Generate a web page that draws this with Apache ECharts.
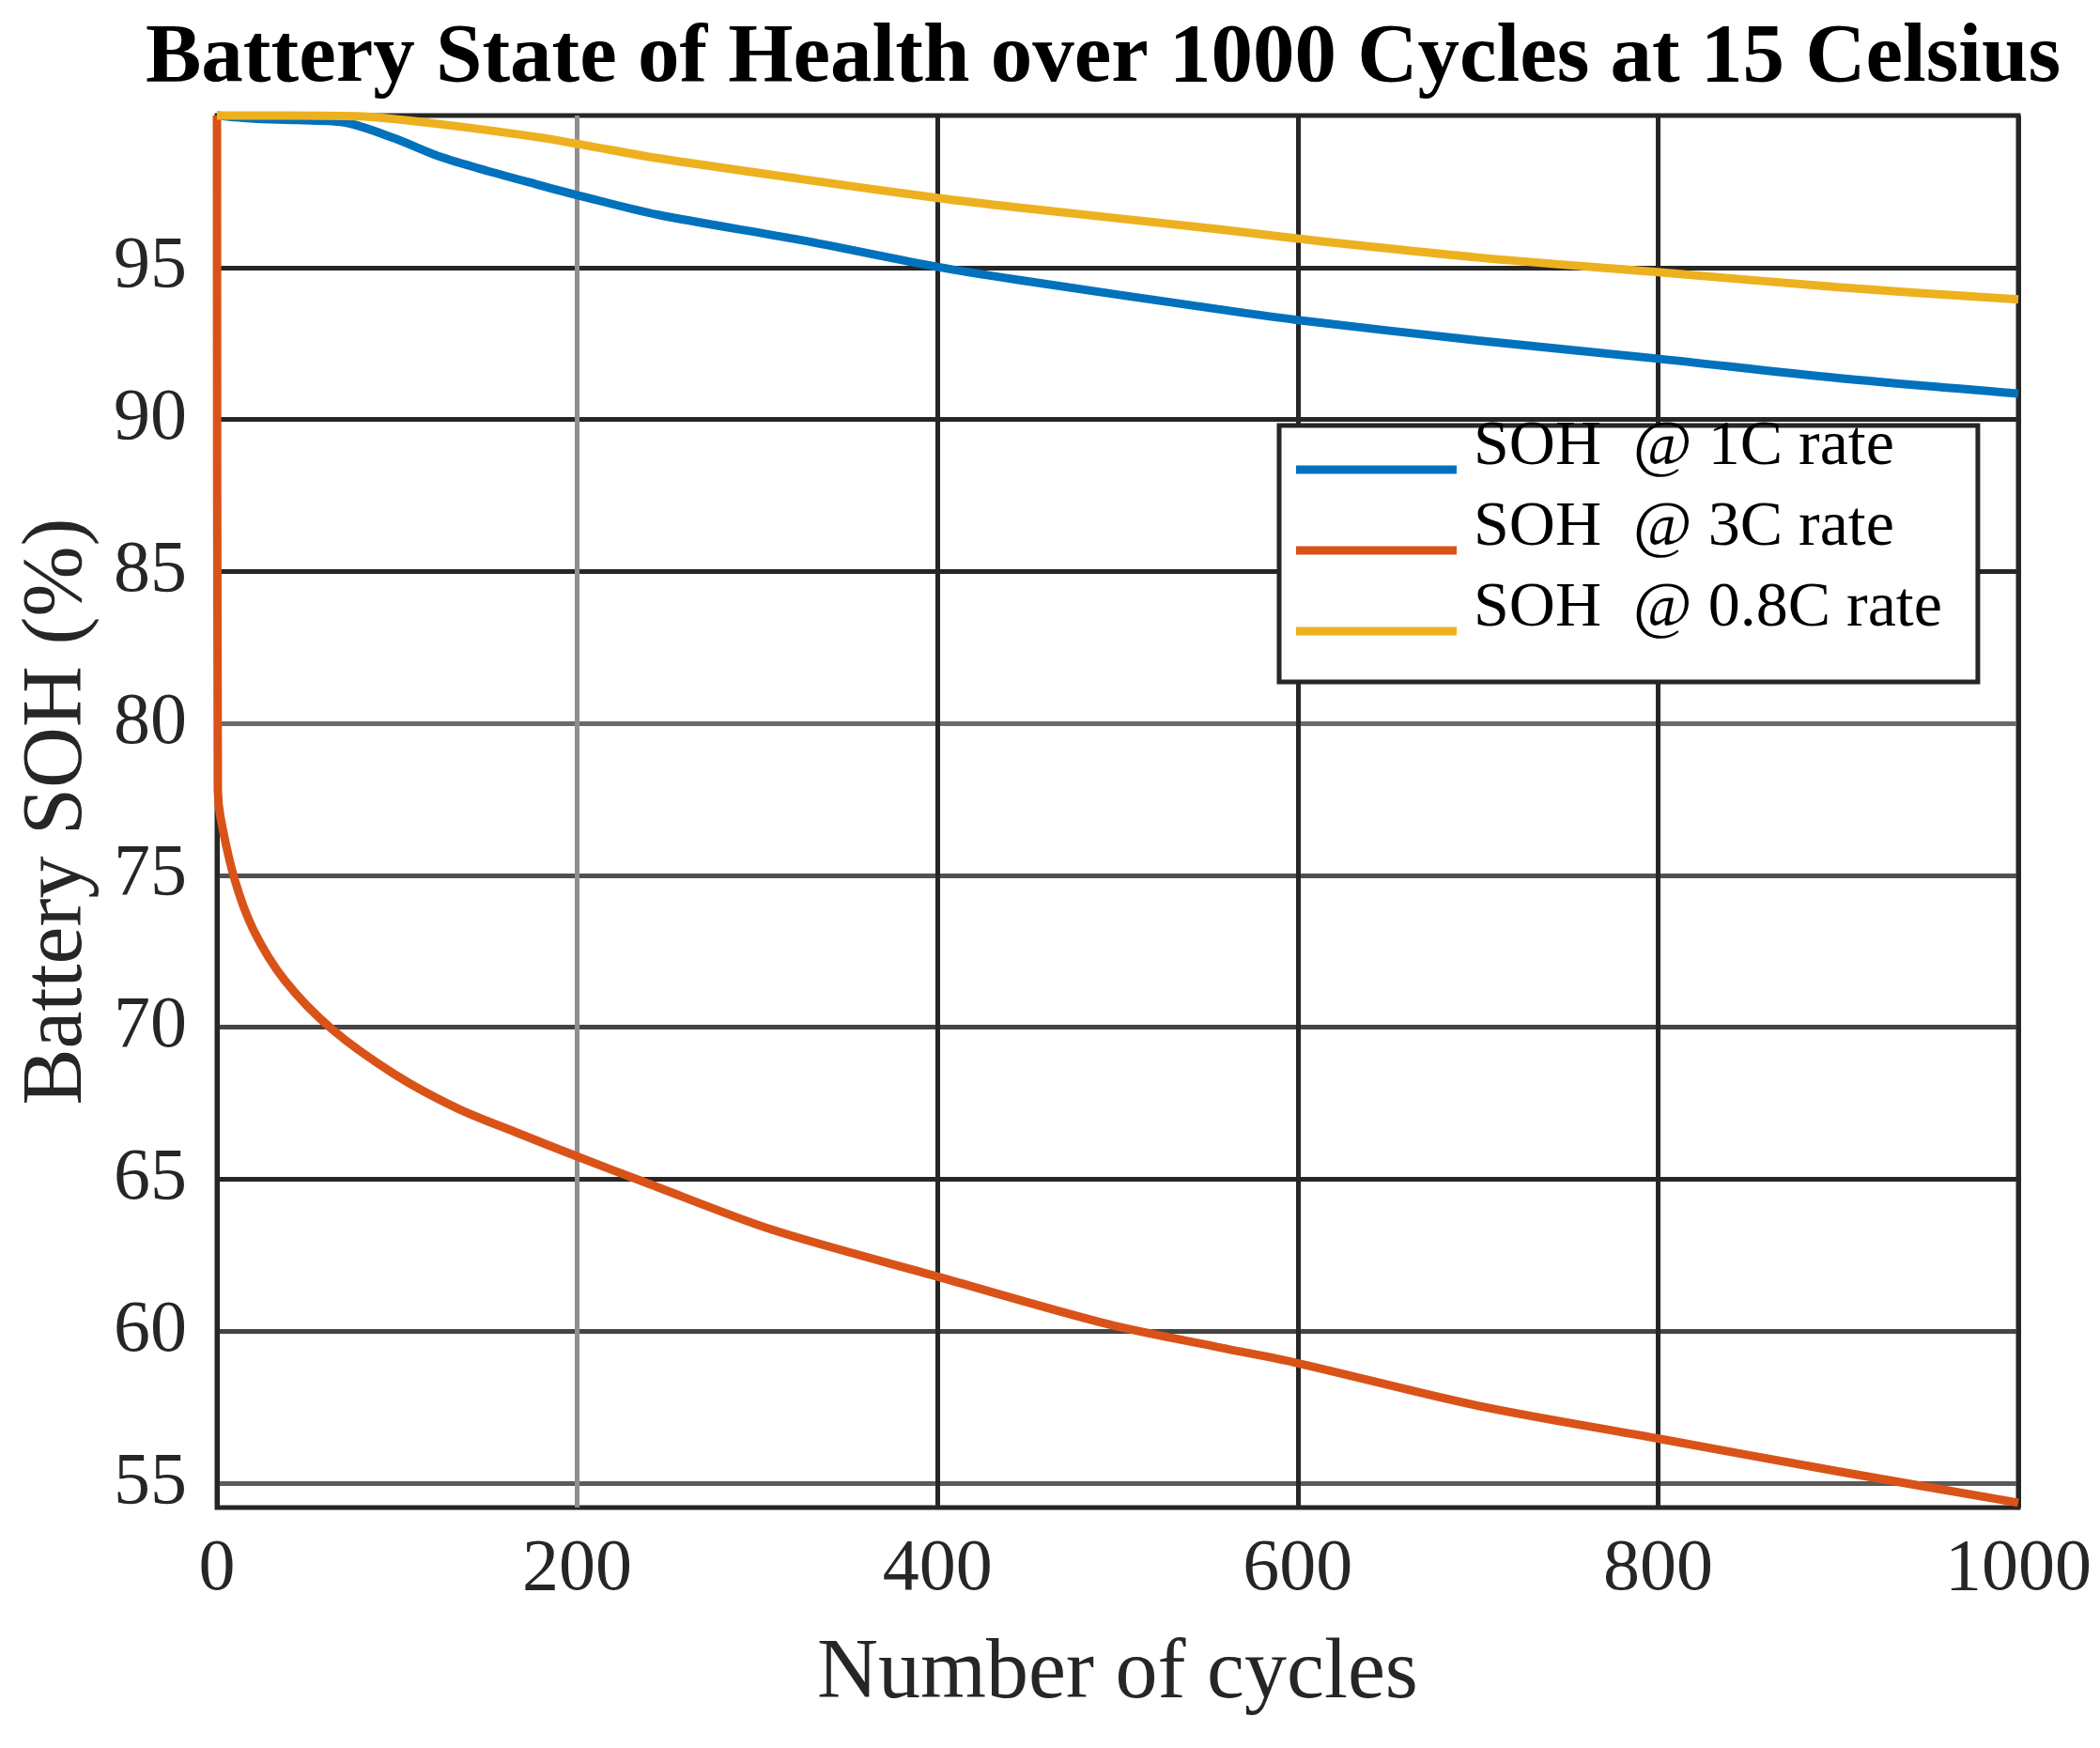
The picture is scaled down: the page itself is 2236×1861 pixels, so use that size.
<!DOCTYPE html>
<html>
<head>
<meta charset="utf-8">
<script src="https://cdn.jsdelivr.net/npm/echarts@6/dist/echarts.min.js"></script>
<style>
html,body{margin:0;padding:0;background:#fff;}
#chart{width:2236px;height:1861px;}
</style>
</head>
<body>
<div id="chart"></div>
<script>
// ---- data ----
const cycles1C = [0, 20, 45, 72, 98.5, 124.6, 150.7, 176.7, 202.8, 244.5, 324.3, 400, 444, 555.8, 600, 700, 800, 900, 1000];
const soh1C    = [100, 99.9, 99.85, 99.76, 99.25, 98.63, 98.17, 97.75, 97.34, 96.74, 95.9, 95.02, 94.6, 93.63, 93.27, 92.6, 92.0, 91.36, 90.85];

const cycles3C = [0, 0.5, 2, 9.9, 20.3, 37.7, 63.8, 98.5, 133.3, 168, 200, 239, 308.8, 400, 495, 557.4, 600, 700, 800, 900, 1000];
const soh3C    = [100, 77.8, 76.9, 74.85, 73.2, 71.54, 69.94, 68.46, 67.34, 66.5, 65.75, 64.87, 63.33, 61.8, 60.23, 59.46, 58.95, 57.55, 56.47, 55.39, 54.36];

const cycles08C = [0, 40, 81, 124.6, 176.7, 202.8, 244.5, 324.3, 400, 444, 555.8, 600, 700, 800, 900, 1000];
const soh08C    = [100, 100, 99.97, 99.71, 99.3, 99.04, 98.6, 97.91, 97.29, 96.98, 96.26, 95.95, 95.33, 94.85, 94.35, 93.95];

const seriesNames = ['SOH  @ 1C rate', 'SOH  @ 3C rate', 'SOH  @ 0.8C rate'];
const yTicks = [55, 60, 65, 70, 75, 80, 85, 90, 95];
const xMin = 0, xMax = 1000, xStep = 200;
const yMin = 54.2, yMax = 100;

const titleText = 'Battery State of Health over 1000 Cycles at 15 Celsius';
const xName = 'Number of cycles';
const yName = 'Battery SOH (%)';

function pairs(xs, ys) { return xs.map((x, i) => [x, ys[i]]); }

const FONT = 'Liberation Serif';
const chart = echarts.init(document.getElementById('chart'), null, {renderer: 'canvas'});

const lineSeries = (name, xs, ys, color) => ({
  name: name,
  type: 'line',
  data: pairs(xs, ys),
  showSymbol: false,
  symbol: 'none',
  smooth: 0.3,
  clip: false,
  color: color,
  lineStyle: {width: 9, color: color},
  itemStyle: {color: color},
  animation: false
});

// legend icon: a 9px-thick line drawn at the bottom of the icon box (text sits above it, as in the reference)
const legendIcon = 'path://M0,0L0.01,0L0,0.01Z M0,48L171,48L171,57L0,57Z';

chart.setOption({
  backgroundColor: '#ffffff',
  animation: false,
  title: {
    text: titleText,
    left: 150,
    top: 14,
    textStyle: {fontFamily: FONT, fontWeight: 'bold', fontSize: 89, color: '#000'}
  },
  grid: {
    left: 231, right: 87, top: 123, bottom: 256,
    show: true, borderColor: '#262626', borderWidth: 5, backgroundColor: '#fff',
    containLabel: false
  },
  legend: {
    orient: 'vertical',
    left: 1362,
    top: 453,
    icon: legendIcon,
    itemWidth: 171,
    itemHeight: 57,
    itemGap: 18,
    padding: [-11, 38, 44, 18],
    backgroundColor: '#fff',
    borderColor: '#262626',
    borderWidth: 5,
    borderRadius: 0,
    selectedMode: false,
    itemStyle: {borderWidth: 0},
    lineStyle: {width: 0},
    textStyle: {
      fontFamily: FONT, fontSize: 68, color: '#000',
      padding: [0, 0, 0, 13],
      width: 511,
      overflow: 'none'
    },
    data: seriesNames
  },
  xAxis: {
    type: 'value',
    min: xMin, max: xMax, interval: xStep,
    axisLine: {show: false},
    axisTick: {show: false},
    axisLabel: {fontFamily: FONT, fontSize: 78, color: '#262626', margin: 28, formatter: function (v) { return String(v); }},
    splitLine: {show: true, lineStyle: {color: ['#262626', '#8f8f8f', '#262626', '#262626', '#262626', '#262626'], width: 5}},
    name: xName,
    nameLocation: 'middle',
    nameGap: 133,
    nameTextStyle: {fontFamily: FONT, fontSize: 90, color: '#262626'}
  },
  yAxis: {
    type: 'value',
    min: yMin, max: yMax,
    axisLine: {show: false},
    axisTick: {show: false, customValues: yTicks},
    axisLabel: {fontFamily: FONT, fontSize: 78, color: '#262626', margin: 32, customValues: yTicks},
    splitLine: {show: true, lineStyle: {color: ['#5a5a5a', '#444', '#262626', '#444', '#505050', '#6a6a6a', '#262626', '#262626', '#262626'], width: 5}},
    name: yName,
    nameLocation: 'middle',
    nameGap: 124,
    nameTextStyle: {fontFamily: FONT, fontSize: 90, color: '#262626'}
  },
  series: [
    lineSeries(seriesNames[0], cycles1C, soh1C, '#0072BD'),
    lineSeries(seriesNames[1], cycles3C, soh3C, '#D95319'),
    lineSeries(seriesNames[2], cycles08C, soh08C, '#EDB120')
  ]
});
</script>
</body>
</html>
